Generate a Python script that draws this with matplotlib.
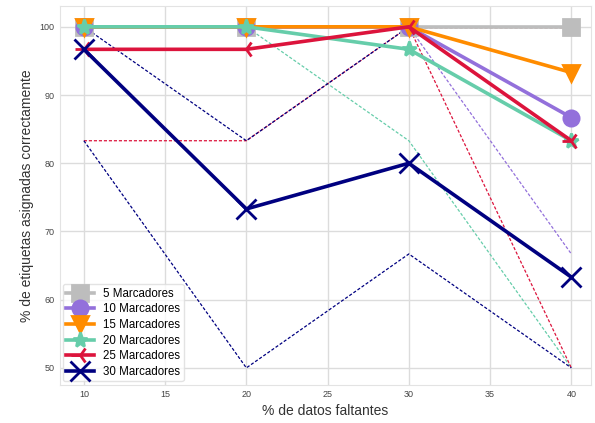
import matplotlib
matplotlib.use("Agg")
import matplotlib.pyplot as plt

plt.rcParams['font.family'] = ['Liberation Sans', 'DejaVu Sans']

# % de datos faltantes
faltantes = [10, 20, 30, 40]

etiquetas = ["5 Marcadores", "10 Marcadores", "15 Marcadores",
             "20 Marcadores", "25 Marcadores", "30 Marcadores"]

# promedio por numero de marcadores
media_5 = [100, 100, 100, 100]
media_10 = [100, 100, 100, 86.7]
media_15 = [100, 100, 100, 93.3]
media_20 = [100, 100, 96.7, 83.3]
media_25 = [96.7, 96.7, 100, 83.3]
media_30 = [96.7, 73.3, 80, 63.3]

# minimo y maximo (lineas punteadas)
min_5 = [100, 100, 100, 100]
min_10 = [100, 100, 100, 66.7]
min_15 = [100, 100, 100, 83.3]
min_20 = [100, 100, 83.3, 50]
min_25 = [83.3, 83.3, 100, 50]
min_30 = [83.3, 50, 66.7, 50]

max_5 = [100, 100, 100, 100]
max_10 = [100, 100, 100, 100]
max_15 = [100, 100, 100, 100]
max_20 = [100, 100, 100, 100]
max_25 = [100, 100, 100, 100]
max_30 = [100, 83.3, 100, 83.3]

medias = [media_5, media_10, media_15, media_20, media_25, media_30]
minimos = [min_5, min_10, min_15, min_20, min_25, min_30]
maximos = [max_5, max_10, max_15, max_20, max_25, max_30]

colores = ["#bdbdbd", "mediumpurple", "darkorange", "mediumaquamarine", "crimson", "navy"]
marcadores = ["s", "o", "v", "*", "3", "x"]
tamanos = [12, 11, 11, 11, 13, 14]

fig, ax = plt.subplots(figsize=(5.95, 4.23), dpi=100)
fig.subplots_adjust(left=0.10, right=0.993, top=0.985, bottom=0.09)

for mn, mx, c in zip(minimos, maximos, colores):
    ax.plot(faltantes, mn, color=c, lw=0.9, dashes=(2.5, 1.5), zorder=2)
    ax.plot(faltantes, mx, color=c, lw=0.9, dashes=(2.5, 1.5), zorder=2)

for i, (m, c, mk, ms) in enumerate(zip(medias, colores, marcadores, tamanos)):
    ax.plot(faltantes, m, color=c, lw=2.6, marker=mk, markersize=ms,
            markeredgewidth=2, label=etiquetas[i], zorder=3 + i)

ax.set_xlim(8.5, 41.2)
ax.set_ylim(47.5, 103)
ax.set_xticks([10, 15, 20, 25, 30, 35, 40])
ax.set_yticks([50, 60, 70, 80, 90, 100])
ax.tick_params(labelsize=6.5, colors="#444444", length=0)
ax.grid(color="#dcdcdc", lw=1)
ax.set_axisbelow(True)
for s in ax.spines.values():
    s.set_color("#e3e3e3")

ax.set_xlabel("% de datos faltantes", fontsize=10, color="#333333")
ax.set_ylabel("% de etiquetas asignadas correctamente", fontsize=10, color="#333333")

ax.legend(loc="lower left", fontsize=8.3, frameon=True, framealpha=0.8,
          edgecolor="#dddddd", labelspacing=0.32, handlelength=2.4,
          markerscale=1.0, borderaxespad=0.3, borderpad=0.3)

fig.savefig("out.png", dpi=100)
